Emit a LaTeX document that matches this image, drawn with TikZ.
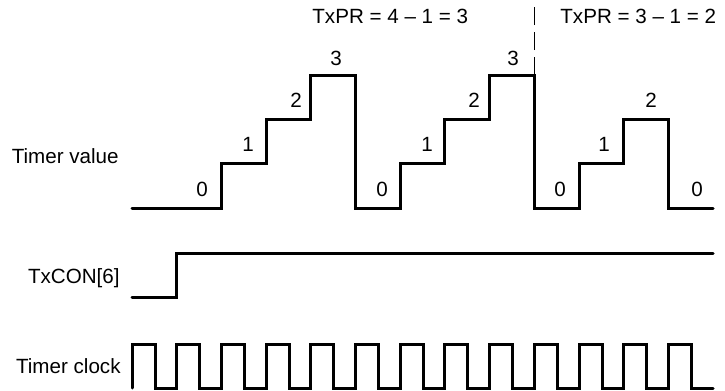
\documentclass[tikz,border=0pt]{standalone}
\usepackage{fontspec}
\setmainfont{Liberation Sans}
\usepackage{tikz}

\tikzset{
    wave/.style={line width=1.5pt, line cap=round, line join=miter},
    lbl/.style={inner sep=0pt, font=\fontsize{10.3}{12}\selectfont}
}

\begin{document}
\begin{tikzpicture}[x=0.5pt, y=-0.5pt]
        \useasboundingbox (0, 0) rectangle (725, 391);

        \node[lbl, anchor=base east] (tval) at (119, 163) {Timer value};
        \node[lbl, anchor=base east] (tcon) at (120, 284) {TxCON[6]};
        \node[lbl, anchor=base east] (tclk) at (121, 373) {Timer clock};

        \node[lbl, anchor=base west] (prA) at (312, 24) {TxPR = 4 -- 1 = 3};
        \node[lbl, anchor=base west] (prB) at (560, 24) {TxPR = 3 -- 1 = 2};

        \node[lbl, anchor=base] (vA0) at (202, 197) {0};
        \node[lbl, anchor=base] (vA1) at (248, 151) {1};
        \node[lbl, anchor=base] (vA2) at (296, 107) {2};
        \node[lbl, anchor=base] (vA3) at (336, 65) {3};
        \node[lbl, anchor=base] (vB0) at (382, 197) {0};
        \node[lbl, anchor=base] (vB1) at (427, 151) {1};
        \node[lbl, anchor=base] (vB2) at (474, 107) {2};
        \node[lbl, anchor=base] (vB3) at (513, 65) {3};
        \node[lbl, anchor=base] (vC0) at (560, 197) {0};
        \node[lbl, anchor=base] (vC1) at (604, 151) {1};
        \node[lbl, anchor=base] (vC2) at (651, 107) {2};
        \node[lbl, anchor=base] (vD0) at (697, 197) {0};

        % timer value
        \draw[wave] (132, 208) -| (221.4, 163.5) -| (266.1, 119) -| (310.8, 75)
            -| (355.5, 208) -| (400.2, 163.5) -| (444.9, 119) -| (489.6, 75)
            -| (534.3, 208) -| (579, 163.5) -| (623.7, 119) -| (668.4, 208)
            -- (713.1, 208);

        % reload point
        \coordinate (splitlow) at (534.3, 75);
        \coordinate (splithigh) at (534.3, 7);
        \draw[line width=0.5pt, dash pattern=on 9pt off 3.5pt] (splitlow) -- (splithigh);

        % TxCON[6]
        \draw[wave] (132, 297) -| (176.7, 253) -- (713.1, 253);

        % timer clock
        \draw[wave] (132, 388) foreach \k in {0,...,12} {
            -- ++(0, -44) -- ++(23, 0) -- ++(0, 44) -- ++(21.7, 0)
        };
\end{tikzpicture}
\end{document}
